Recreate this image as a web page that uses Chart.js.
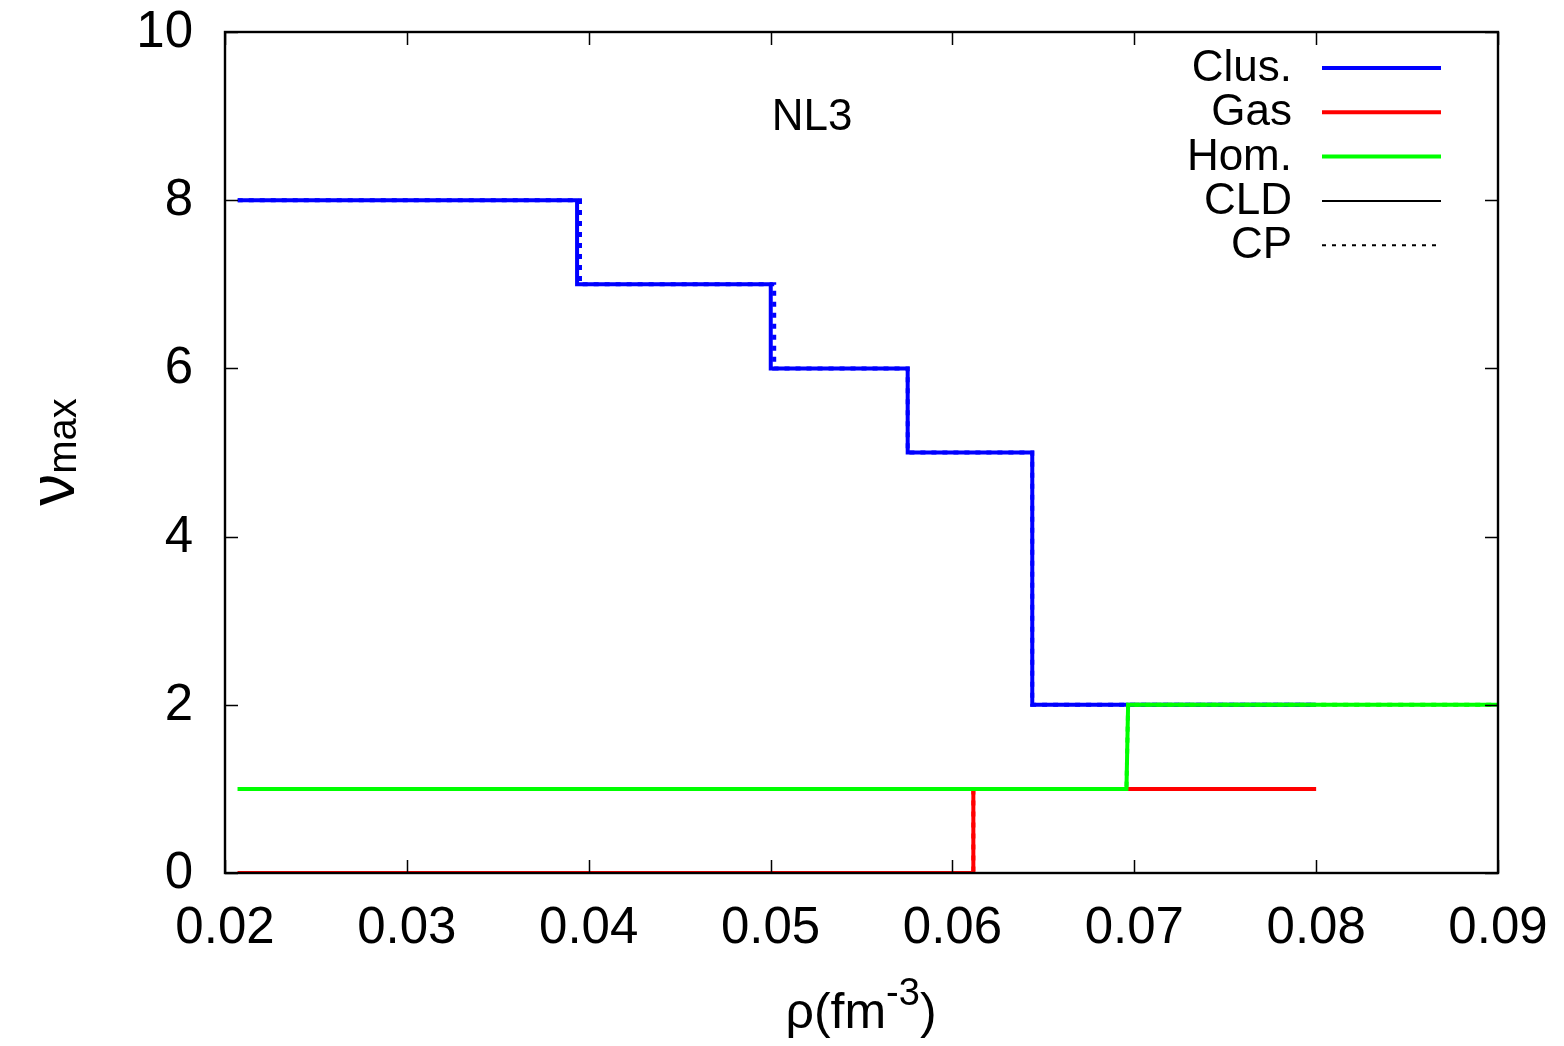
<!DOCTYPE html>
<html>
<head>
<meta charset="utf-8">
<script src="https://cdn.jsdelivr.net/npm/chart.js@4/dist/chart.umd.min.js"></script>
<style>
  html, body { margin: 0; padding: 0; background: #fff; }
  #wrap { width: 1564px; height: 1046px; }
</style>
</head>
<body>
<div id="wrap"><canvas id="c" width="1564" height="1046"></canvas></div>
<script>
// Maximum occupation ν_max versus baryon density ρ (NL3)
const clusCldX = [0.0207, 0.03936, 0.03936, 0.05001, 0.05001, 0.05754, 0.05754, 0.06439, 0.06439, 0.08];
const clusCldY = [8, 8, 7, 7, 6, 6, 5, 5, 2, 2];
const clusCpX  = [0.0207, 0.03952, 0.03952, 0.0502, 0.0502, 0.05754, 0.05754, 0.06439, 0.06439, 0.08];
const clusCpY  = [8, 8, 7, 7, 6, 6, 5, 5, 2, 2];
const gasX     = [0.0207, 0.06115, 0.06115, 0.08];
const gasY     = [0, 0, 1, 1];
const homX     = [0.0207, 0.06957, 0.06966, 0.09];
const homY     = [1, 1, 2, 2];

const xTicks = [0.02, 0.03, 0.04, 0.05, 0.06, 0.07, 0.08, 0.09];
const yTicks = [0, 2, 4, 6, 8, 10];

const legendLabels = ['Clus.', 'Gas', 'Hom.', 'CLD', 'CP'];
const legendColors = ['#0000ff', '#ff0000', '#00ff00', '#000000', '#000000'];

const FONT = '"Liberation Sans", Arial, Helvetica, sans-serif';

function pts(xs, ys) { return xs.map((x, i) => ({ x: x, y: ys[i] })); }

// bottom-to-top drawing sequence
const layers = [
  { data: pts(clusCldX, clusCldY), color: '#0000ff', dash: [] },
  { data: pts(gasX, gasY),         color: '#ff0000', dash: [] },
  { data: pts(clusCpX, clusCpY),   color: '#0000ff', dash: [5, 6] },
  { data: pts(gasX, gasY),         color: '#ff0000', dash: [5, 6] },
  { data: pts(homX, homY),         color: '#00ff00', dash: [] },
  { data: pts(homX, homY),         color: '#00ff00', dash: [5, 6] },
];

const datasets = layers.map((l, i) => ({
  data: l.data,
  showLine: true,
  borderColor: l.color,
  backgroundColor: l.color,
  borderWidth: 4,
  borderDash: l.dash,
  pointRadius: 0,
  fill: false,
  tension: 0,
  order: layers.length - i,
}));

const decorations = {
  id: 'decorations',
  afterDraw(chart) {
    const { ctx, chartArea: a, scales } = chart;
    const xs = scales.x, ys = scales.y;
    ctx.save();
    // inward ticks on all four sides
    ctx.strokeStyle = '#000';
    ctx.lineWidth = 1.5;
    const tl = 13;
    ctx.beginPath();
    xTicks.forEach(v => {
      const px = Math.round(xs.getPixelForValue(v)) + 0.5;
      ctx.moveTo(px, a.bottom); ctx.lineTo(px, a.bottom - tl);
      ctx.moveTo(px, a.top); ctx.lineTo(px, a.top + tl);
    });
    yTicks.forEach(v => {
      const py = Math.round(ys.getPixelForValue(v)) + 0.5;
      ctx.moveTo(a.left, py); ctx.lineTo(a.left + tl, py);
      ctx.moveTo(a.right, py); ctx.lineTo(a.right - tl, py);
    });
    ctx.stroke();
    // frame
    ctx.lineWidth = 2.4;
    ctx.strokeRect(a.left, a.top, a.right - a.left, a.bottom - a.top);

    // tick labels
    ctx.fillStyle = '#000';
    ctx.font = '51px ' + FONT;
    ctx.textBaseline = 'middle';
    ctx.textAlign = 'center';
    xTicks.forEach(v => ctx.fillText(v.toFixed(2), xs.getPixelForValue(v), a.bottom + 56));
    ctx.textAlign = 'right';
    yTicks.forEach(v => ctx.fillText(String(v), a.left - 32, ys.getPixelForValue(v) + 1));

    // label inside the plot
    ctx.font = '44px ' + FONT;
    ctx.textAlign = 'center';
    ctx.fillText('NL3', 812, 118);

    // key
    ctx.textAlign = 'right';
    ctx.font = '44px ' + FONT;
    legendLabels.forEach((lab, i) => {
      const y = 68 + i * 44.3;
      ctx.fillStyle = '#000';
      ctx.fillText(lab, 1292, y + 1);
      ctx.beginPath();
      ctx.strokeStyle = legendColors[i];
      ctx.lineWidth = i < 3 ? 4 : 2;
      ctx.setLineDash(i === 4 ? [4, 6] : []);
      ctx.moveTo(1322, y); ctx.lineTo(i === 4 ? 1438 : 1441, y);
      ctx.stroke();
    });
    ctx.setLineDash([]);

    // x axis title: ρ(fm^-3)
    ctx.fillStyle = '#000';
    ctx.textAlign = 'left';
    ctx.textBaseline = 'alphabetic';
    const big = '50px ' + FONT, small = '38px ' + FONT;
    ctx.font = big;
    const p1 = 'ρ(fm';
    const w1 = ctx.measureText(p1).width;
    ctx.font = small;
    const w2 = ctx.measureText('-3').width;
    ctx.font = big;
    const w3 = ctx.measureText(')').width;
    let x0 = 861 - (w1 + w2 + w3) / 2;
    const base = 1028;
    ctx.fillText(p1, x0, base);
    ctx.font = small;
    ctx.fillText('-3', x0 + w1, base - 23);
    ctx.font = big;
    ctx.fillText(')', x0 + w1 + w2, base);

    // y axis title: ν_max (rotated)
    ctx.save();
    ctx.translate(74, 452);
    ctx.rotate(-Math.PI / 2);
    ctx.font = '64px ' + FONT;
    const wn = ctx.measureText('ν').width;
    ctx.font = '40px ' + FONT;
    const wm = ctx.measureText('max').width;
    const sx = -(wn + wm) / 2;
    ctx.font = '64px ' + FONT;
    ctx.fillText('ν', sx, 0);
    ctx.font = '40px ' + FONT;
    ctx.fillText('max', sx + wn, 2);
    ctx.restore();

    ctx.restore();
  }
};

new Chart(document.getElementById('c'), {
  type: 'scatter',
  data: { datasets },
  options: {
    responsive: false,
    animation: false,
    events: [],
    layout: { padding: { top: 32, right: 66, left: 0, bottom: 0 } },
    plugins: { legend: { display: false }, tooltip: { enabled: false } },
    scales: {
      x: {
        type: 'linear',
        min: 0.02, max: 0.09,
        afterFit(s) { s.height = 1046 - 873; },
        afterBuildTicks(s) { s.ticks = xTicks.map(v => ({ value: v })); },
        grid: { display: false, drawTicks: false },
        border: { display: false },
        ticks: { display: false },
      },
      y: {
        type: 'linear',
        min: 0, max: 10,
        afterFit(s) { s.width = 225; },
        afterBuildTicks(s) { s.ticks = yTicks.map(v => ({ value: v })); },
        grid: { display: false, drawTicks: false },
        border: { display: false },
        ticks: { display: false },
      },
    },
  },
  plugins: [decorations],
});
</script>
</body>
</html>
